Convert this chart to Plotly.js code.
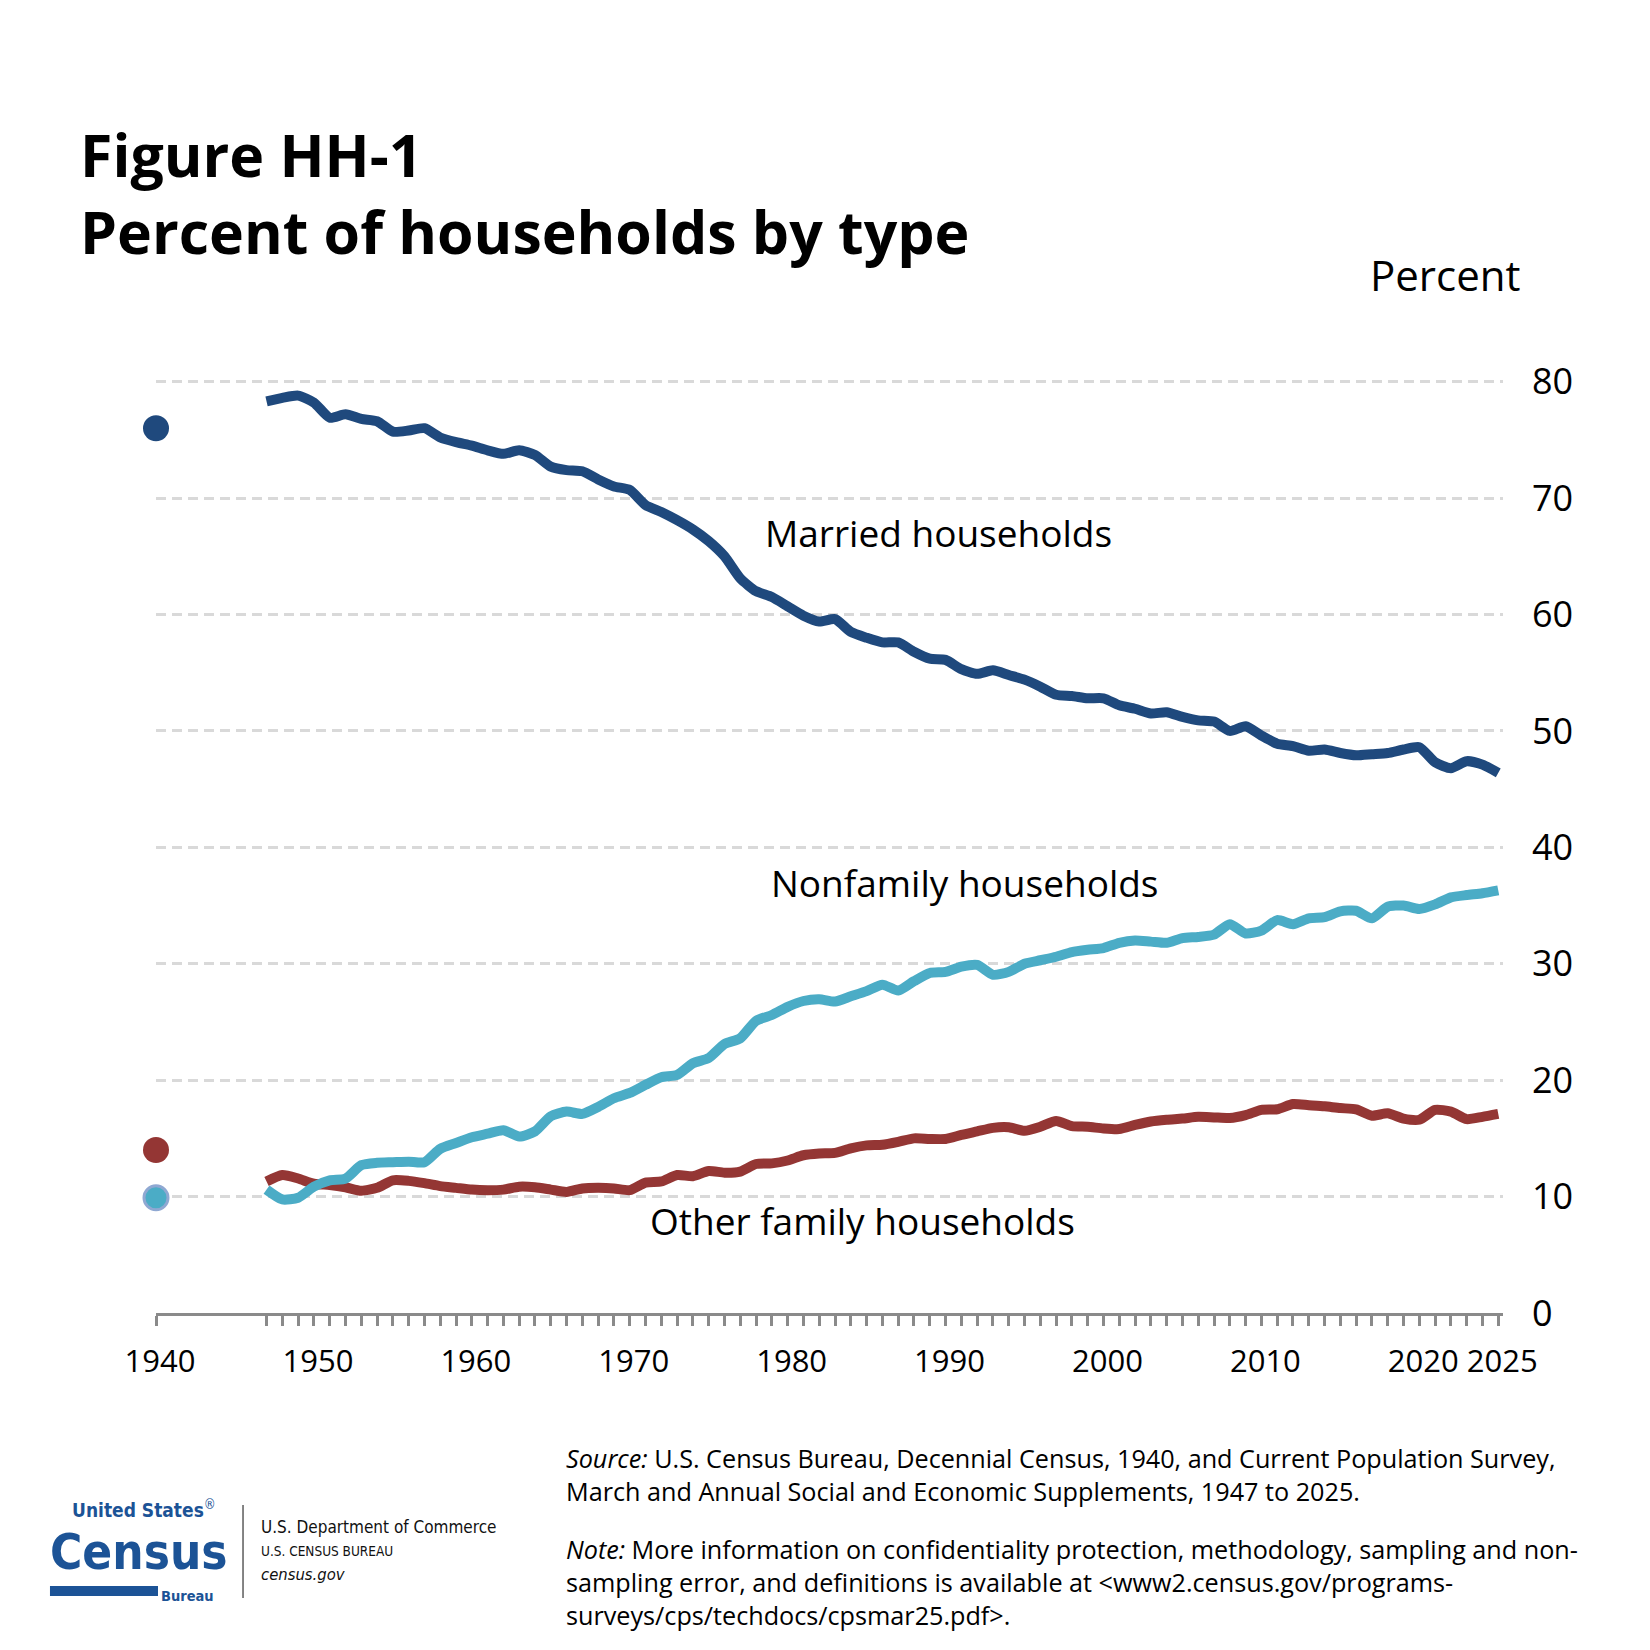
<!DOCTYPE html>
<html>
<head>
<meta charset="utf-8">
<script src="https://cdn.plot.ly/plotly-3.0.1.min.js"></script>
<style>
  html, body { margin: 0; padding: 0; background: #ffffff; }
  #chart { width: 1650px; height: 1650px; }
</style>
</head>
<body>
<div id="chart"></div>
<script>
// ---------------- data ----------------
const years = [1947,1948,1949,1950,1951,1952,1953,1954,1955,1956,1957,1958,1959,
  1960,1961,1962,1963,1964,1965,1966,1967,1968,1969,
  1970,1971,1972,1973,1974,1975,1976,1977,1978,1979,
  1980,1981,1982,1983,1984,1985,1986,1987,1988,1989,
  1990,1991,1992,1993,1994,1995,1996,1997,1998,1999,
  2000,2001,2002,2003,2004,2005,2006,2007,2008,2009,
  2010,2011,2012,2013,2014,2015,2016,2017,2018,2019,
  2020,2021,2022,2023,2024,2025];

const married = [78.3,78.6,78.8,78.2,76.9,77.2,76.8,76.6,75.7,75.8,76.0,75.2,74.8,
  74.5,74.1,73.8,74.1,73.7,72.7,72.4,72.3,71.6,71.0,
  70.7,69.4,68.8,68.1,67.3,66.3,65.0,63.1,62.0,61.5,
  60.7,59.9,59.4,59.6,58.5,58.0,57.6,57.6,56.8,56.2,
  56.1,55.3,54.9,55.2,54.8,54.4,53.8,53.1,53.0,52.8,
  52.8,52.2,51.9,51.5,51.6,51.2,50.9,50.8,50.0,50.4,
  49.6,48.9,48.7,48.3,48.4,48.1,47.9,48.0,48.1,48.4,
  48.6,47.3,46.8,47.4,47.1,46.4];

const nonfamily = [10.6,9.75,9.9,10.85,11.4,11.55,12.7,12.9,12.95,13.0,12.95,14.1,14.6,
  15.1,15.4,15.7,15.15,15.6,16.9,17.3,17.1,17.7,18.45,
  18.9,19.6,20.25,20.45,21.45,21.9,23.1,23.6,25.1,25.6,
  26.3,26.8,26.95,26.75,27.2,27.65,28.2,27.7,28.5,29.2,
  29.3,29.75,29.9,29.05,29.3,30.0,30.3,30.6,31.0,31.2,
  31.35,31.8,32.0,31.9,31.8,32.2,32.3,32.5,33.4,32.6,
  32.85,33.75,33.4,33.9,34.0,34.5,34.55,33.9,34.9,35.0,
  34.7,35.1,35.7,35.9,36.05,36.3];

const otherFamily = [11.3,11.85,11.55,11.1,11.0,10.8,10.5,10.75,11.4,11.35,11.15,10.9,10.75,
  10.6,10.55,10.6,10.85,10.8,10.6,10.4,10.7,10.75,10.7,
  10.55,11.2,11.3,11.85,11.75,12.2,12.05,12.15,12.8,12.85,
  13.1,13.55,13.7,13.75,14.15,14.4,14.45,14.7,15.0,14.95,
  14.95,15.3,15.6,15.9,15.95,15.65,16.0,16.5,16.05,16.0,
  15.85,15.8,16.15,16.45,16.6,16.7,16.85,16.8,16.75,17.0,
  17.45,17.5,17.95,17.85,17.75,17.6,17.5,16.95,17.15,16.7,
  16.6,17.45,17.3,16.65,16.85,17.1];

// 1940 Decennial Census points
const census1940Year = [1940];
const married1940 = [76.0];
const otherFamily1940 = [14.0];
const nonfamily1940 = [9.9];

const labeledYears = [1940,1950,1960,1970,1980,1990,2000,2010,2020,2025];
const yTicks = [0,10,20,30,40,50,60,70,80];

// ---------------- layout helpers ----------------
const W = 1650, H = 1650;
const L = 156, R = 147.3, B = 337, Tm = 370.2;
const PW = W - L - R, PH = H - Tm - B;
const xp = px => (px - L) / PW;
const yp = py => (H - B - py) / PH;

const FONT = '"Open Sans", "Noto Sans", sans-serif';
const NARROW = '"Liberation Sans Narrow", "DejaVu Sans Condensed", "Liberation Sans", sans-serif';

const cMarried = '#1f497d', cNon = '#4bacc6', cOther = '#943634';
const cLogo = '#1c5396';
const lw = 10;

const traces = [
  { x: years, y: otherFamily, mode: 'lines', name: 'Other family households',
    line: { color: cOther, width: lw, shape: 'spline', smoothing: 0.6 }, hoverinfo: 'x+y' },
  { x: years, y: nonfamily, mode: 'lines', name: 'Nonfamily households',
    line: { color: cNon, width: lw, shape: 'spline', smoothing: 0.6 }, hoverinfo: 'x+y' },
  { x: years, y: married, mode: 'lines', name: 'Married households',
    line: { color: cMarried, width: lw, shape: 'spline', smoothing: 0.6 }, hoverinfo: 'x+y' },
  { x: census1940Year, y: married1940, mode: 'markers', cliponaxis: false,
    marker: { color: cMarried, size: 26 }, hoverinfo: 'x+y' },
  { x: census1940Year, y: otherFamily1940, mode: 'markers', cliponaxis: false,
    marker: { color: cOther, size: 26 }, hoverinfo: 'x+y' },
  { x: census1940Year, y: nonfamily1940, mode: 'markers', cliponaxis: false,
    marker: { color: cNon, size: 24, line: { color: '#8fa8d2', width: 3 } }, hoverinfo: 'x+y' }
];

function ann(text, x, y, size, opts) {
  return Object.assign({
    text: text, xref: 'paper', yref: 'paper', x: xp(x), y: yp(y),
    xanchor: 'left', yanchor: 'middle', showarrow: false, align: 'left',
    font: { family: FONT, size: size, color: '#000000' }
  }, opts || {});
}

const FS = 25.2;
const annotations = [
  ann('Married households', 763, 533, 37),
  ann('Nonfamily households', 769, 883, 37),
  ann('Other family households', 648, 1221, 37),
  ann('Percent', 1522, 275, 42, { xanchor: 'right' }),
  ann('<i>Source:</i> U.S. Census Bureau, Decennial Census, 1940, and Current Population Survey,<br>' +
      'March and Annual Social and Economic Supplements, 1947 to 2025.', 564, 1474, FS),
  ann('<i>Note:</i> More information on confidentiality protection, methodology, sampling and non-<br>' +
      'sampling error, and definitions is available at &lt;www2.census.gov/programs-<br>' +
      'surveys/cps/techdocs/cpsmar25.pdf&gt;.', 564, 1582, FS),
  // Census logo text
  ann('<b>United States</b><sup>®</sup>', 218, 1509, 19, { xanchor: 'right', font: { family: NARROW, size: 19, color: cLogo } }),
  ann('<b>Census</b>', 48, 1552, 49, { font: { family: NARROW, size: 49, color: cLogo } }),
  ann('<b>Bureau</b>', 216, 1596, 14.5, { xanchor: 'right', font: { family: NARROW, size: 14.5, color: cLogo } }),
  ann('U.S. Department of Commerce', 259, 1527, 17, { font: { family: NARROW, size: 17, color: '#111111' } }),
  ann('U.S. CENSUS BUREAU', 259, 1551, 13.5, { font: { family: NARROW, size: 13.5, color: '#111111' } }),
  ann('<i>census.gov</i>', 259, 1574, 16.5, { font: { family: NARROW, size: 16.5, color: '#111111' } })
];

const shapes = [
  { type: 'rect', xref: 'paper', yref: 'paper', x0: xp(50), x1: xp(158), y0: yp(1596), y1: yp(1586),
    fillcolor: cLogo, line: { width: 0 } },
  { type: 'line', xref: 'paper', yref: 'paper', x0: xp(243), x1: xp(243), y0: yp(1598), y1: yp(1505),
    line: { color: '#333333', width: 1.2 } }
];

const layout = {
  width: W, height: H,
  margin: { l: L, r: R, t: Tm, b: B, pad: 0 },
  paper_bgcolor: '#ffffff', plot_bgcolor: '#ffffff',
  showlegend: false,
  title: {
    text: 'Figure HH-1<br>Percent of households by type',
    xref: 'container', yref: 'container',
    x: 80 / W, xanchor: 'left', y: 1 - 177 / H, yanchor: 'top',
    font: { family: FONT, size: 59, weight: 700, color: '#000000' }
  },
  xaxis: {
    range: [1940, 2025.3], fixedrange: true,
    tickmode: 'array', tickvals: labeledYears, ticktext: labeledYears.map(String),
    ticks: 'outside', ticklen: 10, tickwidth: 3, tickcolor: '#8a8a8a',
    minor: { tickmode: 'array', tickvals: census1940Year.concat(years), ticks: 'outside',
             ticklen: 10, tickwidth: 3, tickcolor: '#8a8a8a', showgrid: false },
    showline: true, linecolor: '#8a8a8a', linewidth: 3,
    showgrid: false, zeroline: false,
    tickfont: { family: FONT, size: 31, color: '#000000' },
    ticklabelstandoff: 9,
    ticklabelshift: 4
  },
  yaxis: {
    range: [0, 81], fixedrange: true, side: 'right',
    tickmode: 'array', tickvals: yTicks, ticktext: yTicks.map(String),
    ticks: '', showline: false, zeroline: false,
    showgrid: true, gridcolor: '#d9d9d9', gridwidth: 3, griddash: '10px,6px',
    tickfont: { family: FONT, size: 36, color: '#000000' },
    ticklabelstandoff: 28
  },
  annotations: annotations,
  shapes: shapes
};

Plotly.newPlot('chart', traces, layout, { staticPlot: true, displayModeBar: false });
</script>
</body>
</html>
